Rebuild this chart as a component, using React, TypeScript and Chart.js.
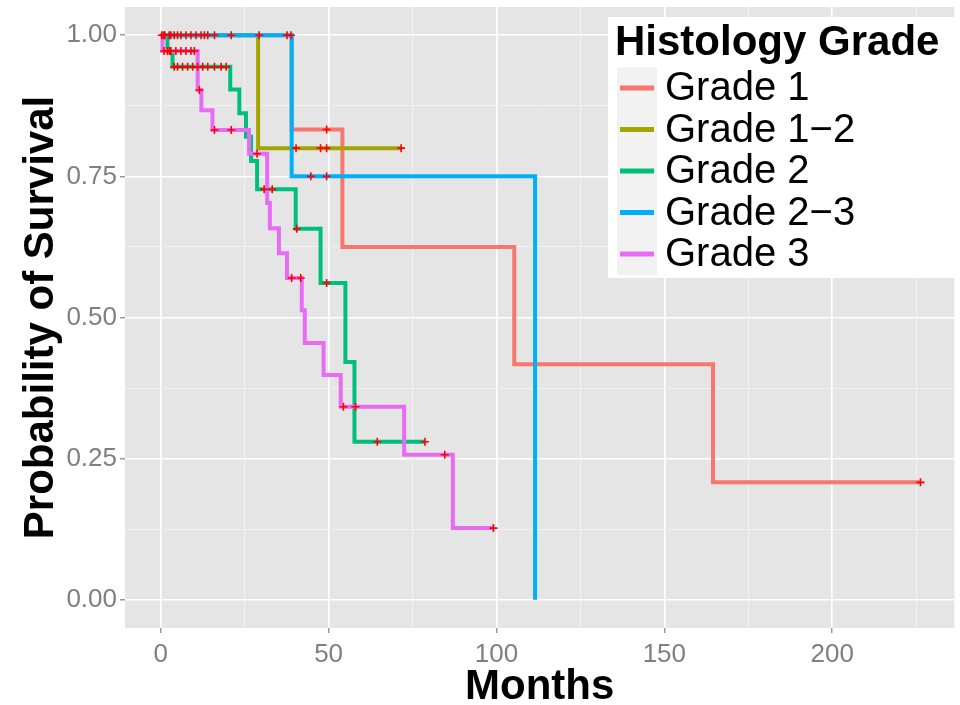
import React, { useEffect, useRef } from 'react';
import { Chart, registerables } from 'chart.js';

Chart.register(...registerables);

// ---- Data ----
const gradeNames = ['Grade 1', 'Grade 1\u22122', 'Grade 2', 'Grade 2\u22123', 'Grade 3'];
const gradeColors = ['#F8766D', '#A3A500', '#00BF7D', '#00B0F6', '#E76BF3'];

// Grade 1
const g1Times = [0, 39, 54.1, 105.3, 164.5, 226.3];
const g1Surv = [1, 0.833, 0.625, 0.417, 0.208, 0.208];
const g1Censor = [0.3, 1.2, 2.5, 4, 6, 9, 12, 16, 49.4, 226.3];

// Grade 1-2
const g12Times = [0, 29, 71.6];
const g12Surv = [1, 0.8, 0.8];
const g12Censor = [0.8, 3, 5, 7.5, 10.5, 40.3, 47.6, 49.4, 71.6];

// Grade 2
const g2Times = [0, 2, 3.5, 20.7, 23.4, 25.4, 26.9, 28.7, 40.2, 47.6, 55, 57.7, 78.7];
const g2Surv = [1, 0.972, 0.944, 0.904, 0.862, 0.82, 0.777, 0.727, 0.657, 0.561, 0.421, 0.28, 0.28];
const g2Censor = [2.6, 4, 5, 6.5, 8, 9.5, 11, 12.5, 14, 16, 18, 19.5, 30.8, 33.2, 40.5, 49.4, 64.5, 78.7];

// Grade 2-3
const g23Times = [0, 39, 111.5];
const g23Surv = [1, 0.75, 0];
const g23Censor = [13, 14, 21, 29.3, 37.6, 38.8, 44.7, 49.4];

// Grade 3
const g3Times = [0, 0.5, 11, 12.1, 15.4, 26.3, 31.7, 32.5, 35.2, 37.6, 42, 42.9, 48.5, 53.6, 72.5, 87, 99.1];
const g3Surv = [1, 0.972, 0.903, 0.867, 0.832, 0.79, 0.703, 0.658, 0.614, 0.57, 0.513, 0.455, 0.398, 0.342, 0.257, 0.127, 0.127];
const g3Censor = [1, 2, 3, 4.5, 6, 7.5, 9, 10, 11.5, 16, 21, 28.7, 39, 41.7, 54.4, 58, 84.6, 99.1];

// Axes
const xMajorTicks = [0, 50, 100, 150, 200];
const xTickLabels = ['0', '50', '100', '150', '200'];
const xMinorTicks = [25, 75, 125, 175, 225];
const yMajorTicks = [0, 0.25, 0.5, 0.75, 1];
const yTickLabels = ['0.00', '0.25', '0.50', '0.75', '1.00'];
const yMinorTicks = [0.125, 0.375, 0.625, 0.875];

const xTitle = 'Months';
const yTitle = 'Probability of Survival';
const legendTitle = 'Histology Grade';

const groups = [
  { times: g1Times, surv: g1Surv, censor: g1Censor },
  { times: g12Times, surv: g12Surv, censor: g12Censor },
  { times: g2Times, surv: g2Surv, censor: g2Censor },
  { times: g23Times, surv: g23Surv, censor: g23Censor },
  { times: g3Times, surv: g3Surv, censor: g3Censor },
];

const FONT = '"Liberation Sans", Arial, Helvetica, sans-serif';

function survAt(times: number[], surv: number[], t: number) {
  let s = surv[0];
  for (let i = 0; i < times.length; i++) if (times[i] <= t) s = surv[i];
  return s;
}

function findIdx(list: number[], v: number) {
  return list.findIndex((m) => Math.abs(m - v) < 1e-6);
}

const panelPlugin = {
  id: 'panelBg',
  beforeDraw(chart: any) {
    const { ctx, chartArea } = chart;
    ctx.save();
    ctx.fillStyle = '#FFFFFF';
    ctx.fillRect(0, 0, chart.width, chart.height);
    ctx.fillStyle = '#E5E5E5';
    ctx.fillRect(chartArea.left, chartArea.top, chartArea.right - chartArea.left, chartArea.bottom - chartArea.top);
    ctx.restore();
  },
};

const legendPlugin = {
  id: 'ggLegend',
  afterDraw(chart: any) {
    const { ctx } = chart;
    const bx = 608, by = 17, bw = 347, bh = 261;
    ctx.save();
    ctx.fillStyle = '#FFFFFF';
    ctx.fillRect(bx, by, bw, bh);
    ctx.fillStyle = '#000000';
    ctx.font = 'bold 42px ' + FONT;
    ctx.textBaseline = 'alphabetic';
    ctx.textAlign = 'left';
    ctx.fillText(legendTitle, 615, 55);
    const rowH = 41.5;
    const firstY = 88;
    ctx.fillStyle = '#F2F2F2';
    ctx.fillRect(617, firstY - rowH / 2, 40, rowH * gradeNames.length);
    gradeNames.forEach((name, i) => {
      const cy = firstY + rowH * i;
      ctx.strokeStyle = gradeColors[i];
      ctx.lineWidth = 5;
      ctx.beginPath();
      ctx.moveTo(620, cy);
      ctx.lineTo(654, cy);
      ctx.stroke();
      ctx.fillStyle = '#000000';
      ctx.font = '40px ' + FONT;
      ctx.textBaseline = 'middle';
      ctx.fillText(name, 665, cy + 1);
    });
    ctx.restore();
  },
};

export default function App() {
  const canvasRef = useRef<HTMLCanvasElement | null>(null);

  useEffect(() => {
    document.body.style.margin = '0';
    const canvas = canvasRef.current;
    if (!canvas) return;

    const curveOrder = [5, 4, 3, 2, 1];
    const datasets: any[] = [];
    groups.forEach((g, i) => {
      datasets.push({
        label: gradeNames[i],
        data: g.times.map((t, k) => ({ x: t, y: g.surv[k] })),
        showLine: true,
        stepped: 'before',
        borderColor: gradeColors[i],
        backgroundColor: gradeColors[i],
        borderWidth: 4,
        pointRadius: 0,
        fill: false,
        order: curveOrder[i] + 1,
      });
    });
    groups.forEach((g, i) => {
      datasets.push({
        label: gradeNames[i] + ' censored',
        data: g.censor.map((t) => ({ x: t, y: survAt(g.times, g.surv, t) })),
        showLine: false,
        pointStyle: 'cross',
        pointRadius: 4,
        pointBorderWidth: 1.6,
        borderColor: '#FF0000',
        backgroundColor: '#FF0000',
        order: 0,
      });
    });

    const xAll = [...xMajorTicks, ...xMinorTicks].sort((a, b) => a - b);
    const yAll = [...yMajorTicks, ...yMinorTicks].sort((a, b) => a - b);

    const chart = new Chart(canvas, {
      type: 'scatter',
      data: { datasets },
      plugins: [panelPlugin, legendPlugin],
      options: {
        responsive: false,
        animation: false,
        devicePixelRatio: 1,
        layout: { padding: { top: 7, left: 0, right: 0, bottom: 0 } },
        plugins: { legend: { display: false }, tooltip: { enabled: false } },
        scales: {
          x: {
            type: 'linear',
            min: -10.65,
            max: 236.4,
            afterBuildTicks: (s: any) => {
              s.ticks = xAll.map((v) => ({ value: v }));
            },
            afterFit: (s: any) => {
              s.height = 77;
              s.paddingLeft = 0;
              s.paddingRight = 0;
            },
            border: { display: false },
            grid: {
              color: (c: any) => (c.tick && findIdx(xMajorTicks, c.tick.value) >= 0 ? '#FFFFFF' : '#F2F2F2'),
              lineWidth: (c: any) => (c.tick && findIdx(xMajorTicks, c.tick.value) >= 0 ? 1.6 : 0.9),
              tickColor: (c: any) => (c.tick && findIdx(xMajorTicks, c.tick.value) >= 0 ? '#7F7F7F' : 'rgba(0,0,0,0)'),
              tickLength: 5,
              tickWidth: 1.2,
            },
            ticks: {
              autoSkip: false,
              maxRotation: 0,
              padding: 6,
              color: '#7F7F7F',
              font: { family: FONT, size: 26 },
              callback: (v: any) => {
                const i = findIdx(xMajorTicks, Number(v));
                return i >= 0 ? xTickLabels[i] : '';
              },
            },
            title: {
              display: true,
              text: xTitle,
              color: '#000000',
              font: { family: FONT, size: 42, weight: 'bold', lineHeight: 1 },
              padding: { top: 0, bottom: -3 },
            },
          },
          y: {
            type: 'linear',
            min: -0.05,
            max: 1.05,
            afterBuildTicks: (s: any) => {
              s.ticks = yAll.map((v) => ({ value: v }));
            },
            afterFit: (s: any) => {
              s.width = 125;
              s.paddingTop = 0;
              s.paddingBottom = 0;
            },
            border: { display: false },
            grid: {
              color: (c: any) => (c.tick && findIdx(yMajorTicks, c.tick.value) >= 0 ? '#FFFFFF' : '#F2F2F2'),
              lineWidth: (c: any) => (c.tick && findIdx(yMajorTicks, c.tick.value) >= 0 ? 1.6 : 0.9),
              tickColor: (c: any) => (c.tick && findIdx(yMajorTicks, c.tick.value) >= 0 ? '#7F7F7F' : 'rgba(0,0,0,0)'),
              tickLength: 5,
              tickWidth: 1.2,
            },
            ticks: {
              autoSkip: false,
              padding: 3,
              color: '#7F7F7F',
              font: { family: FONT, size: 26 },
              callback: (v: any) => {
                const i = findIdx(yMajorTicks, Number(v));
                return i >= 0 ? yTickLabels[i] : '';
              },
            },
            title: {
              display: true,
              text: yTitle,
              color: '#000000',
              font: { family: FONT, size: 42, weight: 'bold', lineHeight: 1.2 },
              padding: { top: 16, bottom: 0 },
            },
          },
        },
      } as any,
    });

    return () => chart.destroy();
  }, []);

  return (
    <div style={{ position: 'absolute', left: 0, top: 0, width: 960, height: 705 }}>
      <canvas ref={canvasRef} width={960} height={705} style={{ display: 'block', width: 960, height: 705 }} />
    </div>
  );
}
